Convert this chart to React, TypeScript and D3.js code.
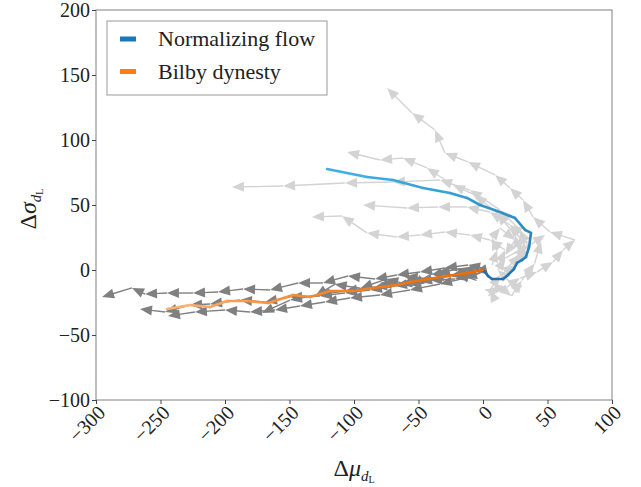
import React, { useEffect, useRef } from 'react';
import * as d3 from 'd3';

type Pt = [number, number];

// mean trajectories (start at the origin)
const flowMean: Pt[] = [
  [0, 0], [1.6, -1.5], [3.9, -4.6], [7.0, -6.9], [15.5, -6.9], [19.4, -3.8], [24.0, 0.8],
  [26.4, 5.4], [30.2, 7.7], [33.3, 10.0], [35.7, 17.7], [37.2, 28.5], [32.6, 30.8],
  [24.8, 40.0], [10.9, 45.4], [-2.3, 50.0], [-12.4, 55.4], [-25.6, 59.2], [-46.5, 63.1],
  [-69.8, 69.2], [-89.9, 71.5], [-120.9, 77.7],
];

const bilbyMean: Pt[] = [
  [0, 0], [-10, -2], [-20, -3.5], [-27.9, -4.6], [-40, -6.5], [-56.6, -9.2], [-66.7, -11.5],
  [-85.3, -13.8], [-100.8, -16.2], [-118.6, -16.2], [-134.1, -20.8], [-147.3, -19.2],
  [-166.7, -25.4], [-183, -23.8], [-198.4, -23.8], [-211.6, -28.5], [-227, -26.9], [-245, -30],
];

// individual runs, normalizing flow (light grey)
const flowRuns: Pt[][] = [
  [[1.6, -15.4], [18.6, -13.1], [28.7, -6.2], [41.9, -1.5], [54.3, 6.2], [62.0, 15.4], [71.3, 23.1],
    [51.9, 29.2], [38.8, 40.8], [31.0, 53.8], [20.9, 63.1], [9.3, 73.1], [-11.6, 83.1],
    [-29.5, 90.0], [-37.2, 107.7], [-55.0, 120.8], [-74.4, 140.0]],
  [[17.1, 0], [28.7, 11.5], [24.8, 26.9], [10.9, 43.8], [-6.2, 57.7], [-23.3, 65.4],
    [-43.4, 78.5], [-62.0, 86.2], [-79.8, 84.6], [-105.4, 90.8]],
  [[20.9, 3.8], [36.4, 15.4], [28.7, 30.8], [13.2, 46.2], [-10.1, 61.5], [-33.3, 69.2],
    [-69.8, 67.7], [-107.0, 66.9], [-155.0, 64.6], [-194.6, 63.8]],
  [[24.8, 7.7], [32.6, 19.2], [20.9, 34.6], [5.4, 44.6], [-12.4, 48.5], [-34.9, 48.5],
    [-58.9, 47.7], [-93.0, 50.0]],
  [[13.2, 6.2], [17.1, 15.4], [5.4, 23.1], [-10.1, 26.9], [-29.5, 29.2], [-48.8, 26.9],
    [-66.7, 25.4], [-89.9, 28.5], [-109.3, 41.5], [-132.6, 40.8]],
  [[9.3, -23.1], [5.4, -15.4], [13.2, -3.8], [24.8, 3.8], [32.6, 15.4], [28.7, 29.2], [20.9, 34.6]],
  [[28.7, -15.4], [20.9, -9.2], [11.6, 0], [17.1, 9.2], [36.4, 19.2], [48.1, 26.9]],
  [[7.0, 3.8], [10.9, 15.4], [7.0, 24.6], [13.2, 32.3], [24.8, 23.1], [17.1, 11.5]],
  [[4, -20], [12, -12], [22, -20], [30, -8], [40, 5], [45, 22]],
];

// individual runs, bilby dynesty (dark grey)
const bilbyRuns: Pt[][] = [
  [[0, 1.5], [-11.6, 3.8], [-29.5, 1.5], [-48.8, -1.5], [-66.7, -3.8], [-83.7, -6.9],
    [-104.7, -4.6], [-124.0, -10.0], [-143.4, -10.0], [-165.1, -15.4], [-186.0, -14.6],
    [-205.4, -16.9], [-224.8, -17.7], [-245.0, -17.7], [-262.0, -18.5], [-272.1, -13.8],
    [-295.3, -20.8]],
  [[0, 0], [-6.2, -1.5], [-25.6, -4.6], [-48.8, -9.2], [-68.2, -12.3], [-87.6, -15.4],
    [-107.0, -17.7], [-126.4, -20.0], [-149.6, -20.8], [-169.0, -24.6], [-188.4, -23.1],
    [-211.6, -26.2], [-227.1, -26.9], [-246.5, -32.3], [-265.9, -30.0]],
  [[0, -1.5], [-14.0, -6.2], [-33.3, -10.8], [-56.6, -15.4], [-79.8, -19.2], [-103.1, -21.5],
    [-122.5, -24.6], [-141.9, -27.7], [-161.2, -30.8], [-180.6, -32.3], [-200.0, -30.8],
    [-223.3, -32.3], [-244.2, -35.4]],
  [[-2.3, -2.3], [-21.7, -6.9], [-41.1, -7.7], [-64.3, -10.8], [-83.7, -13.1], [-107.0, -16.2],
    [-127.9, -19.2], [-149.6, -23.1], [-171.3, -33.1]],
  [[-5, -8], [-20, -3], [-10, 2], [-35, -2], [-30, -8], [-60, -5], [-50, -12], [-80, -10]],
  [[-3, 3], [-15, -4], [-40, -3], [-55, -12], [-75, -7], [-95, -14], [-115, -11], [-130, -20]],
];

const xTicks = [-300, -250, -200, -150, -100, -50, 0, 50, 100];
const yTicks = [-100, -50, 0, 50, 100, 150, 200];
const legendLabels = ['Normalizing flow', 'Bilby dynesty'];
const legendColors = ['#1f77b4', '#ff7f0e'];

const FONT = 'Liberation Serif';

const fmt = (v: number) => (v < 0 ? `\u2212${Math.abs(v)}` : `${v}`);

const App: React.FC = () => {
  const svgRef = useRef<SVGSVGElement>(null);

  useEffect(() => {
    if (!svgRef.current) return;
    const width = 641;
    const height = 487;
    const margin = { top: 10, right: 29, bottom: 87, left: 96 };
    const innerW = width - margin.left - margin.right;
    const innerH = height - margin.top - margin.bottom;

    const svg = d3.select(svgRef.current);
    svg.selectAll('*').remove();
    svg.attr('width', width).attr('height', height);

    const g = svg.append('g').attr('transform', `translate(${margin.left},${margin.top})`);

    const x = d3.scaleLinear().domain([-300, 100]).range([0, innerW]);
    const y = d3.scaleLinear().domain([-100, 200]).range([innerH, 0]);

    svg.append('defs').append('clipPath').attr('id', 'plot-clip')
      .append('rect').attr('width', innerW).attr('height', innerH);
    const plot = g.append('g').attr('clip-path', 'url(#plot-clip)');

    const drawRun = (pts: Pt[], color: string) => {
      const run = plot.append('g');
      for (let i = 1; i < pts.length; i++) {
        const x0 = x(pts[i - 1][0]);
        const y0 = y(pts[i - 1][1]);
        const x1 = x(pts[i][0]);
        const y1 = y(pts[i][1]);
        const ang = Math.atan2(y1 - y0, x1 - x0);
        const len = Math.hypot(x1 - x0, y1 - y0);
        const headL = 12;
        const headW = 5;
        const cut = Math.min(len, headL * 0.8);
        run.append('line')
          .attr('x1', x0).attr('y1', y0)
          .attr('x2', x1 - Math.cos(ang) * cut).attr('y2', y1 - Math.sin(ang) * cut)
          .attr('stroke', color).attr('stroke-width', 1.4);
        const bx = x1 - Math.cos(ang) * headL;
        const by = y1 - Math.sin(ang) * headL;
        const px = -Math.sin(ang) * headW;
        const py = Math.cos(ang) * headW;
        run.append('path')
          .attr('d', `M${x1},${y1}L${bx + px},${by + py}L${bx - px},${by - py}Z`)
          .attr('fill', color);
      }
    };

    flowRuns.forEach((r) => drawRun(r, '#d3d3d3'));
    bilbyRuns.forEach((r) => drawRun(r, '#808080'));

    const drawMean = (pts: Pt[], dark: string, light: string, power: number) => {
      const interp = d3.interpolateRgb(dark, light);
      const n = pts.length - 1;
      for (let i = 0; i < n; i++) {
        plot.append('line')
          .attr('x1', x(pts[i][0])).attr('y1', y(pts[i][1]))
          .attr('x2', x(pts[i + 1][0])).attr('y2', y(pts[i + 1][1]))
          .attr('stroke', interp(Math.pow(i / (n - 1), power)))
          .attr('stroke-width', 2.6)
          .attr('stroke-linecap', 'round');
      }
    };
    drawMean(flowMean, '#1f6fb0', '#3cb0e0', 1.6);
    drawMean(bilbyMean, '#ef6c00', '#ffb072', 1.6);

    // frame
    g.append('rect')
      .attr('width', innerW).attr('height', innerH)
      .attr('fill', 'none').attr('stroke', '#808080').attr('stroke-width', 1);

    // y axis
    const yAxis = g.append('g')
      .call(d3.axisLeft(y).tickValues(yTicks).tickSize(4).tickPadding(2).tickFormat((d) => fmt(Number(d))));
    yAxis.attr('font-family', FONT);
    yAxis.select('.domain').remove();
    yAxis.selectAll('line').attr('stroke', '#444');
    yAxis.selectAll('text').attr('font-size', 20).attr('fill', '#222')
      .attr('dy', '0.33em');

    // x axis
    const xAxis = g.append('g').attr('transform', `translate(0,${innerH})`)
      .call(d3.axisBottom(x).tickValues(xTicks).tickSize(4).tickFormat((d) => fmt(Number(d))));
    xAxis.attr('font-family', FONT);
    xAxis.select('.domain').remove();
    xAxis.selectAll('line').attr('stroke', '#444');
    xAxis.selectAll('text')
      .attr('font-size', 20).attr('fill', '#222')
      .attr('text-anchor', 'end')
      .attr('x', 0).attr('y', 0).attr('dy', 0)
      .attr('transform', 'translate(10,14) rotate(-45)');

    // axis labels
    const xl = svg.append('text')
      .attr('x', margin.left + innerW / 2).attr('y', 476)
      .attr('text-anchor', 'middle').attr('font-family', FONT)
      .attr('font-size', 24).attr('fill', '#222');
    xl.append('tspan').text('\u0394');
    xl.append('tspan').attr('font-style', 'italic').text('\u03bc');
    xl.append('tspan').attr('font-style', 'italic').attr('font-size', 15).attr('dy', 5).text('d');
    xl.append('tspan').attr('font-size', 10).attr('dy', 2).text('L');

    const yl = svg.append('text')
      .attr('transform', `translate(36,${margin.top + innerH / 2 + 4}) rotate(-90)`)
      .attr('text-anchor', 'middle').attr('font-family', FONT)
      .attr('font-size', 24).attr('fill', '#222');
    yl.append('tspan').text('\u0394');
    yl.append('tspan').attr('font-style', 'italic').text('\u03c3');
    yl.append('tspan').attr('font-style', 'italic').attr('font-size', 15).attr('dy', 5).text('d');
    yl.append('tspan').attr('font-size', 10).attr('dy', 2).text('L');

    // legend
    const legend = svg.append('g').attr('transform', 'translate(107,21)');
    legend.append('rect')
      .attr('width', 220).attr('height', 74)
      .attr('fill', 'white').attr('stroke', '#999').attr('stroke-width', 1);
    legendLabels.forEach((lab, i) => {
      const row = legend.append('g').attr('transform', `translate(0,${18 + i * 32.5})`);
      row.append('rect')
        .attr('x', 13).attr('y', -2.5).attr('width', 16).attr('height', 5)
        .attr('fill', legendColors[i]);
      row.append('text')
        .attr('x', 51).attr('y', 7).attr('font-family', FONT)
        .attr('font-size', 22).attr('fill', '#222')
        .text(lab);
    });
  }, []);

  return (
    <svg
      ref={svgRef}
      style={{ position: 'absolute', left: 0, top: 0, background: 'white' }}
      role="img"
      aria-label="Mean and individual trajectories for normalizing flow and bilby dynesty"
    />
  );
};

export default App;
